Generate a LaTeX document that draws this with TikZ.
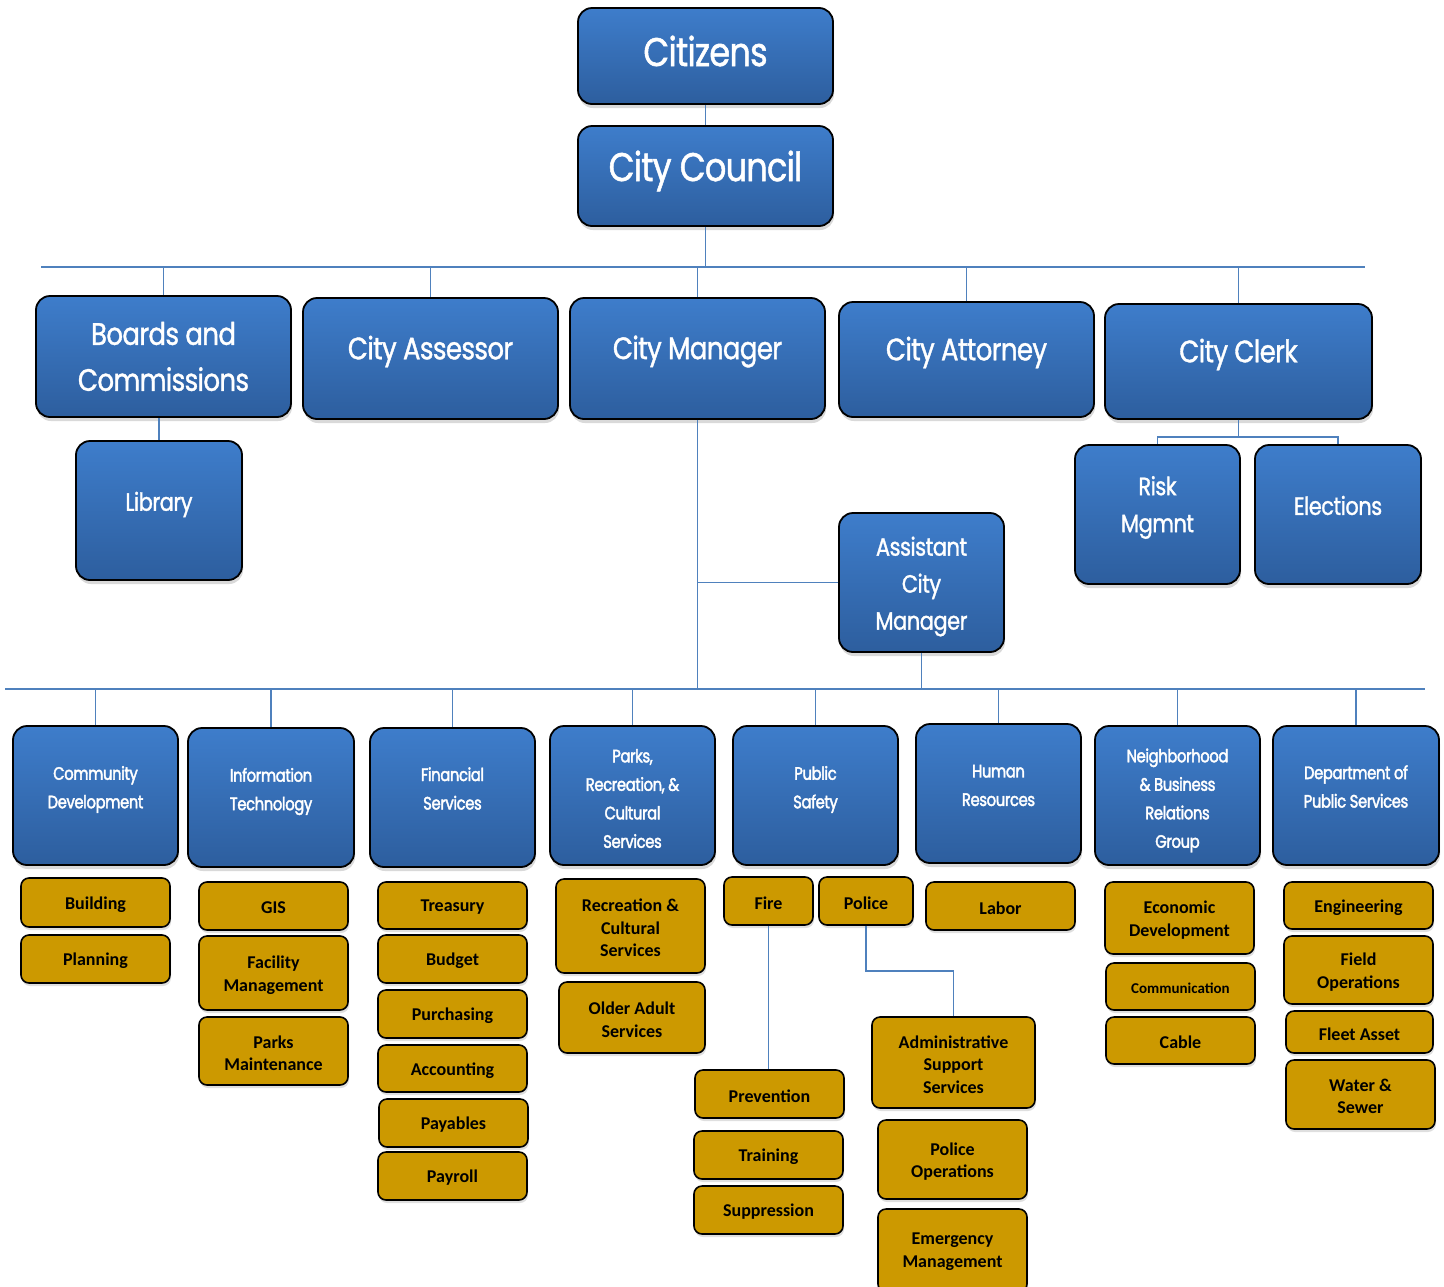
\documentclass[tikz,border=0pt]{standalone}
\usepackage{fontspec}
\setmainfont{Carlito}
\newfontfamily\gothic[FakeStretch=0.84,FakeBold=1.2,LetterSpace=-2]{Poppins}
\newfontfamily\gothicheavy[FakeStretch=0.82,FakeBold=2.2,LetterSpace=-2]{Poppins}
\usetikzlibrary{shadows}
\definecolor{boxtop}{HTML}{3E7DCB}
\definecolor{boxbot}{HTML}{2D5E9E}
\definecolor{goldfill}{HTML}{CC9900}
\definecolor{linkblue}{HTML}{4F81BD}
\newcommand{\office}[8]{%
  \node[#1,minimum width={(#6-#4)*1pt},minimum height={(#7-#5)*1pt}] (#3) at ({(#4+#6)/2},{(#5+#7)/2}) {};
  \node[#2] (#3-text) at (#3.center) {#8};
}

\begin{document}
\begin{tikzpicture}[x=1pt,y=-1pt,
  unitbox/.style={draw=black,line width=1.8pt,rounded corners=14pt,top color=boxtop,bottom color=boxbot,
    inner sep=0pt,drop shadow={shadow xshift=1pt,shadow yshift=-4pt,opacity=.3}},
  subbox/.style={draw=black,line width=1.6pt,rounded corners=8pt,fill=goldfill,
    inner sep=0pt,drop shadow={shadow xshift=1pt,shadow yshift=-3pt,opacity=.25}},
  unittext/.style={text=white,align=center,inner sep=0pt},
  subtext/.style={text=black,align=center,inner sep=0pt,yshift=-2,font=\bfseries\fontsize{18}{22.5}\selectfont},
  link/.style={draw=linkblue,line width=1.5pt},
  huge/.style={unittext,font=\gothic\fontsize{40}{46}\selectfont},
  large/.style={unittext,font=\gothic\fontsize{31}{46}\selectfont},
  mid/.style={unittext,font=\gothic\fontsize{25}{37}\selectfont},
  small/.style={unittext,font=\gothicheavy\fontsize{18}{28.5}\selectfont}]
  \useasboundingbox (0,0) rectangle (1444,1286);

  \office{unitbox}{huge,yshift=5}{citizens}{578}{8}{833}{104}{Citizens}
  \office{unitbox}{huge,yshift=5}{council}{578}{126}{833}{226}{City Council}

  \office{unitbox}{large}{boards}{36}{296}{291}{417}{Boards and\\Commissions}
  \office{unitbox}{large,yshift=7}{assessor}{303}{298}{558}{419}{City Assessor}
  \office{unitbox}{large,yshift=7}{manager}{570}{298}{825}{419}{City Manager}
  \office{unitbox}{large,yshift=7}{attorney}{839}{302}{1094}{417}{City Attorney}
  \office{unitbox}{large,yshift=7}{clerk}{1105}{304}{1372}{419}{City Clerk}

  \office{unitbox}{mid,yshift=6}{library}{76}{441}{242}{580}{Library}
  \office{unitbox}{mid,yshift=7}{risk}{1075}{445}{1240}{584}{Risk\\Mgmnt}
  \office{unitbox}{mid,yshift=9}{elections}{1255}{445}{1421}{584}{Elections}
  \office{unitbox}{mid,yshift=-4}{assistant}{839}{513}{1004}{652}{Assistant\\City\\Manager}

  \office{unitbox}{small,yshift=6}{commdev}{13}{726}{178}{865}{Community\\Development}
  \office{unitbox}{small,yshift=6}{infotech}{188}{728}{354}{867}{Information\\Technology}
  \office{unitbox}{small,yshift=9}{finance}{370}{728}{535}{867}{Financial\\Services}
  \office{unitbox}{small,yshift=-3}{parks}{550}{726}{715}{865}{Parks,\\Recreation, \&\\Cultural\\Services}
  \office{unitbox}{small,yshift=6}{safety}{733}{726}{898}{865}{Public\\Safety}
  \office{unitbox}{small,yshift=8}{hr}{916}{724}{1081}{863}{Human\\Resources}
  \office{unitbox}{small,yshift=-5}{neighbor}{1095}{726}{1260}{865}{Neighborhood\\\& Business\\Relations\\Group}
  \office{unitbox}{small,yshift=9}{dps}{1273}{726}{1439}{865}{Department of\\Public Services}

  \office{subbox}{subtext}{building}{21}{878}{170}{927}{Building}
  \office{subbox}{subtext}{planning}{21}{935}{170}{983}{Planning}
  \office{subbox}{subtext}{gis}{199}{882}{348}{930}{GIS}
  \office{subbox}{subtext}{facility}{199}{936}{348}{1010}{Facility\\Management}
  \office{subbox}{subtext}{parksmaint}{199}{1017}{348}{1085}{Parks\\Maintenance}
  \office{subbox}{subtext}{treasury}{378}{882}{527}{929}{Treasury}
  \office{subbox}{subtext}{budget}{378}{935}{527}{983}{Budget}
  \office{subbox}{subtext}{purchasing}{378}{990}{527}{1038}{Purchasing}
  \office{subbox}{subtext}{accounting}{378}{1045}{527}{1092}{Accounting}
  \office{subbox}{subtext}{payables}{379}{1099}{528}{1147}{Payables}
  \office{subbox}{subtext}{payroll}{378}{1152}{527}{1200}{Payroll}
  \office{subbox}{subtext}{recreation}{556}{879}{705}{973}{Recreation \&\\Cultural\\Services}
  \office{subbox}{subtext}{olderadult}{559}{982}{705}{1053}{Older Adult\\Services}
  \office{subbox}{subtext}{fire}{724}{877}{813}{925}{Fire}
  \office{subbox}{subtext}{police}{819}{877}{913}{925}{Police}
  \office{subbox}{subtext}{labor}{926}{882}{1075}{930}{Labor}
  \office{subbox}{subtext}{prevention}{695}{1070}{844}{1118}{Prevention}
  \office{subbox}{subtext}{training}{694}{1131}{843}{1179}{Training}
  \office{subbox}{subtext}{suppression}{694}{1186}{843}{1234}{Suppression}
  \office{subbox}{subtext}{admin}{872}{1017}{1035}{1108}{Administrative\\Support\\Services}
  \office{subbox}{subtext}{policeops}{878}{1120}{1027}{1199}{Police\\Operations}
  \office{subbox}{subtext,yshift=1}{emergency}{878}{1209}{1027}{1292}{Emergency\\Management}
  \office{subbox}{subtext}{econdev}{1105}{882}{1254}{954}{Economic\\Development}
  \office{subbox}{subtext,font=\bfseries\fontsize{15}{18}\selectfont}{communication}{1106}{963}{1255}{1010}{Communication}
  \office{subbox}{subtext}{cable}{1106}{1017}{1255}{1064}{Cable}
  \office{subbox}{subtext}{engineering}{1284}{882}{1433}{929}{Engineering}
  \office{subbox}{subtext}{fieldops}{1284}{936}{1433}{1004}{Field\\Operations}
  \office{subbox}{subtext}{fleet}{1286}{1011}{1433}{1053}{Fleet Asset}
  \office{subbox}{subtext}{water}{1286}{1060}{1435}{1129}{Water \&\\Sewer}

  \coordinate (topbusL) at (41,267);
  \coordinate (topbusR) at (1365,267);
  \coordinate (lowbusL) at (5,689);
  \coordinate (lowbusR) at (1425,689);

  \draw[link] (citizens) -- (council);
  \draw[link] (council.south) -- (council.south |- topbusL);
  \draw[link] (topbusL) -- (topbusR);
  \foreach \n in {boards,assessor,manager,attorney,clerk}
    \draw[link] (\n.north) -- (\n.north |- topbusL);
  \draw[link] (library.north) -- (library.north |- boards.south);
  \draw[link] (clerk.south) -- ++(0,17) -| (risk.north);
  \draw[link] (clerk.south) -- ++(0,17) -| (elections.north);
  \draw[link] (manager.south) -- (manager.south |- lowbusL);
  \draw[link] (assistant.west) -- (assistant.west -| manager.south);
  \draw[link] (assistant.south) -- (assistant.south |- lowbusL);
  \draw[link] (lowbusL) -- (lowbusR);
  \foreach \n in {commdev,infotech,finance,parks,safety,hr,neighbor,dps}
    \draw[link] (\n.north) -- (\n.north |- lowbusL);
  \draw[link] (fire.south) -- (fire.south |- prevention.north);
  \draw[link] (police.south) -- ++(0,45) -| (admin.north);
\end{tikzpicture}
\end{document}
